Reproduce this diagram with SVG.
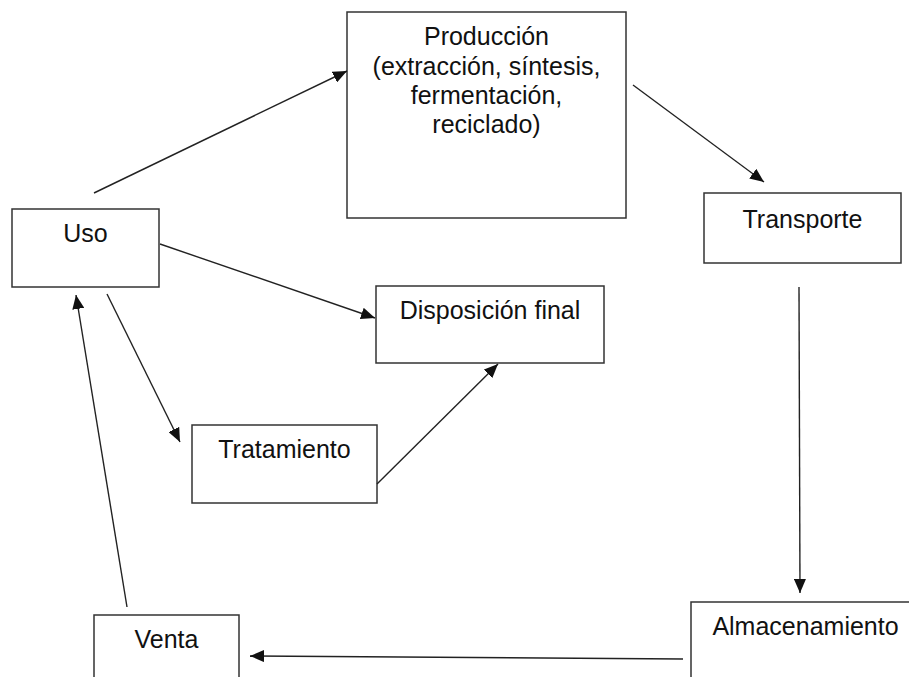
<svg xmlns="http://www.w3.org/2000/svg" width="909" height="677" viewBox="0 0 909 677">
<style>
.box{fill:#fff;stroke:#333;stroke-width:1.5}
.lbl{font-family:"Liberation Sans",Arial,Helvetica,sans-serif;font-size:25px;fill:#111;text-anchor:middle}
.conn{stroke:#222;stroke-width:1.4;fill:none;marker-end:url(#ah)}
</style>
<defs>
<marker id="ah" markerUnits="userSpaceOnUse" markerWidth="14" markerHeight="12" refX="14" refY="6" orient="auto">
<path d="M0,0 L14,6 L0,12 z" fill="#111"/>
</marker>
</defs>
<rect width="909" height="677" fill="#fff"/>
<g id="produccion">
<rect class="box" x="347" y="12" width="279" height="206"/>
<text class="lbl" x="486.5" y="45">Producción</text>
<text class="lbl" x="486.5" y="74.5">(extracción, síntesis,</text>
<text class="lbl" x="486.5" y="104">fermentación,</text>
<text class="lbl" x="486.5" y="133">reciclado)</text>
</g>
<g id="uso">
<rect class="box" x="12" y="209" width="147" height="78"/>
<text class="lbl" x="85.5" y="242">Uso</text>
</g>
<g id="transporte">
<rect class="box" x="704" y="193" width="197" height="70"/>
<text class="lbl" x="802.5" y="228">Transporte</text>
</g>
<g id="disposicion">
<rect class="box" x="376" y="286" width="228" height="77"/>
<text class="lbl" x="490" y="319">Disposición final</text>
</g>
<g id="tratamiento">
<rect class="box" x="192" y="425" width="185" height="78"/>
<text class="lbl" x="284.5" y="458">Tratamiento</text>
</g>
<g id="venta">
<rect class="box" x="94" y="615" width="145" height="80"/>
<text class="lbl" x="166.5" y="648">Venta</text>
</g>
<g id="almacenamiento">
<rect class="box" x="691" y="602" width="230" height="90"/>
<text class="lbl" x="805.5" y="635">Almacenamiento</text>
</g>
<g id="connectors">
<line class="conn" x1="94" y1="193" x2="347" y2="71"/>
<line class="conn" x1="633" y1="85" x2="764" y2="182"/>
<line class="conn" x1="160" y1="244" x2="375" y2="318"/>
<line class="conn" x1="107" y1="294" x2="180" y2="442"/>
<line class="conn" x1="377" y1="484" x2="498" y2="364"/>
<line class="conn" x1="799" y1="287" x2="800" y2="593"/>
<line class="conn" x1="683" y1="659" x2="250" y2="656"/>
<line class="conn" x1="127" y1="607" x2="76" y2="295"/>
</g>
</svg>
